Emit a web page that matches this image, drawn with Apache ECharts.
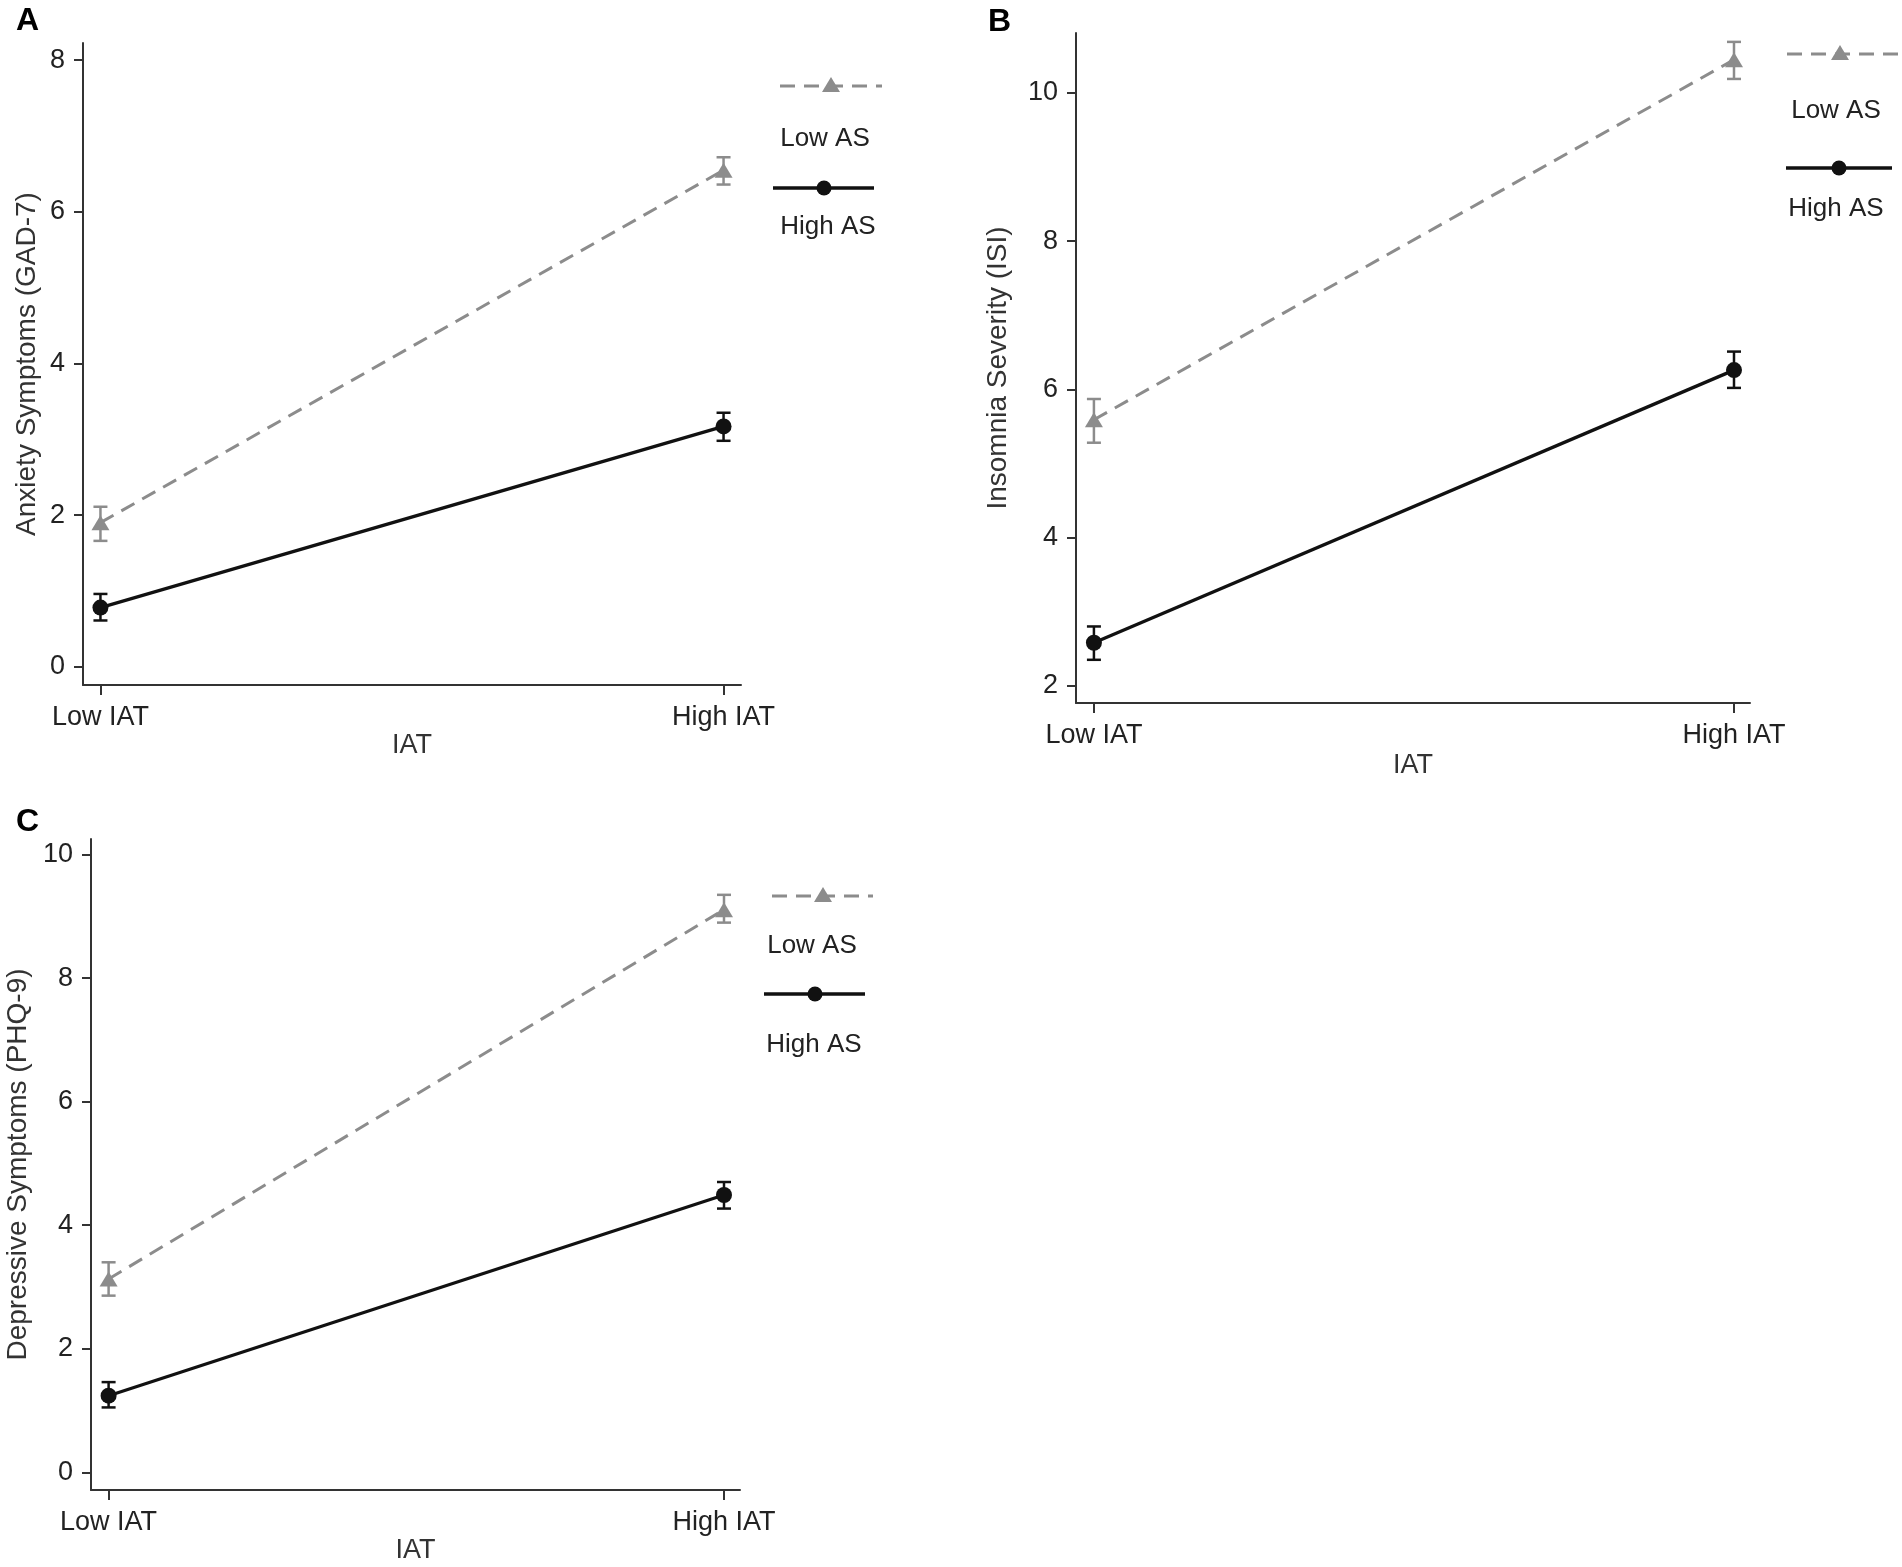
<!DOCTYPE html>
<html>
<head>
<meta charset="utf-8">
<title>IAT x AS interaction plots</title>
<script src="https://cdn.jsdelivr.net/npm/echarts@6/dist/echarts.min.js"></script>
<style>
  html, body { margin: 0; padding: 0; background: #fff; }
  #main { width: 1902px; height: 1567px; }
</style>
</head>
<body>
<div id="main"></div>
<script>
// ---- data ----
const categories = ['Low IAT', 'High IAT'];
const groupNames = ['Low AS', 'High AS'];

// A: Anxiety symptoms (GAD-7)
const gadLowAS = [1.90, 6.55];
const gadLowASErr = [[1.66, 2.11], [6.36, 6.72]];
const gadHighAS = [0.78, 3.17];
const gadHighASErr = [[0.61, 0.96], [2.98, 3.35]];
const gadTicks = [0, 2, 4, 6, 8];

// B: Insomnia severity (ISI)
const isiLowAS = [5.59, 10.45];
const isiLowASErr = [[5.28, 5.87], [10.19, 10.69]];
const isiHighAS = [2.58, 6.26];
const isiHighASErr = [[2.35, 2.80], [6.02, 6.51]];
const isiTicks = [2, 4, 6, 8, 10];

// C: Depressive symptoms (PHQ-9)
const phqLowAS = [3.13, 9.11];
const phqLowASErr = [[2.86, 3.40], [8.90, 9.35]];
const phqHighAS = [1.24, 4.49];
const phqHighASErr = [[1.05, 1.46], [4.27, 4.70]];
const phqTicks = [0, 2, 4, 6, 8, 10];

// ---- layout / style ----
const FONT = 'Liberation Sans, Arial, sans-serif';
const GRAY = '#8c8c8c';
const BLACK = '#111';
const AXIS = '#333';

const panels = [
  { letter: 'A', yName: 'Anxiety Symptoms (GAD-7)', low: gadLowAS, lowErr: gadLowASErr, high: gadHighAS, highErr: gadHighASErr, ticks: gadTicks,
    grid: { left: 83, top: 43, width: 658, height: 642 }, yMin: -0.241, yMax: 8.227, xMin: -0.028, xMax: 1.028,
    yGap: 42, xGap: 46, letterPos: [16, 5],
    legend: { dashY: 86, dashX: [780, 882], triX: 831, lowText: [825, 139], solidY: 188, solidX: [773, 874], dotX: 824, highText: [828, 227] } },
  { letter: 'B', yName: 'Insomnia Severity (ISI)', low: isiLowAS, lowErr: isiLowASErr, high: isiHighAS, highErr: isiHighASErr, ticks: isiTicks,
    grid: { left: 1076, top: 33, width: 674, height: 670 }, yMin: 1.767, yMax: 10.81, xMin: -0.028, xMax: 1.025,
    yGap: 64, xGap: 49, letterPos: [988, 6],
    legend: { dashY: 54, dashX: [1787, 1900], triX: 1840, lowText: [1836, 111], solidY: 168, solidX: [1786, 1892], dotX: 1839, highText: [1836, 209] } },
  { letter: 'C', yName: 'Depressive Symptoms (PHQ-9)', low: phqLowAS, lowErr: phqLowASErr, high: phqHighAS, highErr: phqHighASErr, ticks: phqTicks,
    grid: { left: 91, top: 839, width: 649, height: 651 }, yMin: -0.287, yMax: 10.254, xMin: -0.0286, xMax: 1.026,
    yGap: 59, xGap: 46, letterPos: [16, 806],
    legend: { dashY: 896, dashX: [772, 873], triX: 823, lowText: [812, 946], solidY: 994, solidX: [764, 865], dotX: 815, highText: [814, 1045] } }
];

function errRenderer(color, lw) {
  return function (params, api) {
    const x = api.value(0);
    const top = api.coord([x, api.value(2)]);
    const bot = api.coord([x, api.value(1)]);
    const hw = 7;
    const st = { stroke: color, lineWidth: lw };
    return {
      type: 'group',
      children: [
        { type: 'line', shape: { x1: top[0], y1: top[1], x2: bot[0], y2: bot[1] }, style: st },
        { type: 'line', shape: { x1: top[0] - hw, y1: top[1], x2: top[0] + hw, y2: top[1] }, style: st },
        { type: 'line', shape: { x1: bot[0] - hw, y1: bot[1], x2: bot[0] + hw, y2: bot[1] }, style: st }
      ]
    };
  };
}

const grids = [], xAxes = [], yAxes = [], series = [], titles = [], graphics = [];

panels.forEach(function (p, i) {
  grids.push(Object.assign({ containLabel: false }, p.grid));
  titles.push({
    text: p.letter, left: p.letterPos[0], top: p.letterPos[1], padding: 0,
    textStyle: { fontFamily: FONT, fontSize: 32, fontWeight: 'bold', color: '#000' }
  });
  xAxes.push({
    gridIndex: i, type: 'value', min: p.xMin, max: p.xMax,
    name: 'IAT', nameLocation: 'middle', nameGap: p.xGap,
    nameTextStyle: { fontFamily: FONT, fontSize: 27, color: '#333' },
    axisLine: { show: true, onZero: false, lineStyle: { color: AXIS, width: 2 } },
    axisTick: { show: true, length: 10, customValues: [0, 1], lineStyle: { color: AXIS, width: 2 } },
    axisLabel: { customValues: [0, 1], margin: 19, fontFamily: FONT, fontSize: 27, color: '#222',
      formatter: function (v) { return categories[Math.round(v)]; } },
    splitLine: { show: false }
  });
  yAxes.push({
    gridIndex: i, type: 'value', min: p.yMin, max: p.yMax,
    name: p.yName, nameLocation: 'middle', nameRotate: 90, nameGap: p.yGap,
    nameTextStyle: { fontFamily: FONT, fontSize: 28, color: '#333' },
    axisLine: { show: true, onZero: false, lineStyle: { color: AXIS, width: 2 } },
    axisTick: { show: true, length: 9, customValues: p.ticks, lineStyle: { color: AXIS, width: 2 } },
    axisLabel: { customValues: p.ticks, margin: 18, fontFamily: FONT, fontSize: 27, color: '#222' },
    splitLine: { show: false }
  });

  series.push({
    type: 'custom', name: groupNames[0] + ' err', xAxisIndex: i, yAxisIndex: i,
    renderItem: errRenderer(GRAY, 2.5), encode: { x: 0, y: [1, 2] },
    data: p.lowErr.map(function (e, k) { return [k, e[0], e[1]]; }), z: 3, silent: true
  });
  series.push({
    type: 'custom', name: groupNames[1] + ' err', xAxisIndex: i, yAxisIndex: i,
    renderItem: errRenderer(BLACK, 2.5), encode: { x: 0, y: [1, 2] },
    data: p.highErr.map(function (e, k) { return [k, e[0], e[1]]; }), z: 3, silent: true
  });
  series.push({
    type: 'line', name: groupNames[0], xAxisIndex: i, yAxisIndex: i,
    data: p.low.map(function (v, k) { return [k, v]; }),
    symbol: 'triangle', symbolSize: [18, 15], showAllSymbol: true,
    lineStyle: { color: GRAY, width: 3, type: [15, 9] },
    itemStyle: { color: GRAY }, z: 4, silent: true
  });
  series.push({
    type: 'line', name: groupNames[1], xAxisIndex: i, yAxisIndex: i,
    data: p.high.map(function (v, k) { return [k, v]; }),
    symbol: 'circle', symbolSize: 16, showAllSymbol: true,
    lineStyle: { color: BLACK, width: 3.3 },
    itemStyle: { color: BLACK }, z: 4, silent: true
  });

  // legend key: sample line above its label, as in the figure
  const L = p.legend;
  graphics.push(
    { type: 'line', shape: { x1: L.dashX[0], y1: L.dashY, x2: L.dashX[1], y2: L.dashY },
      style: { stroke: GRAY, lineWidth: 3, lineDash: [15, 9] } },
    { type: 'polygon', shape: { points: [[L.triX, L.dashY - 9], [L.triX - 9, L.dashY + 6], [L.triX + 9, L.dashY + 6]] },
      style: { fill: GRAY } },
    { type: 'text', x: L.lowText[0], y: L.lowText[1],
      style: { text: groupNames[0], fontFamily: FONT, fontSize: 26, fill: '#222', align: 'center', verticalAlign: 'middle' } },
    { type: 'line', shape: { x1: L.solidX[0], y1: L.solidY, x2: L.solidX[1], y2: L.solidY },
      style: { stroke: BLACK, lineWidth: 3.3 } },
    { type: 'circle', shape: { cx: L.dotX, cy: L.solidY, r: 7.5 }, style: { fill: BLACK } },
    { type: 'text', x: L.highText[0], y: L.highText[1],
      style: { text: groupNames[1], fontFamily: FONT, fontSize: 26, fill: '#222', align: 'center', verticalAlign: 'middle' } }
  );
});

const chart = echarts.init(document.getElementById('main'), null, { renderer: 'canvas' });
chart.setOption({
  backgroundColor: '#fff',
  animation: false,
  title: titles,
  grid: grids,
  xAxis: xAxes,
  yAxis: yAxes,
  series: series,
  graphic: graphics
});
</script>
</body>
</html>
